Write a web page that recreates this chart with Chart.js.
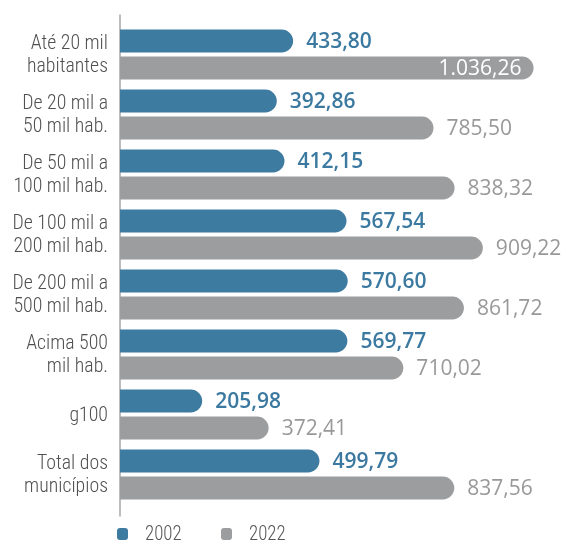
<!DOCTYPE html>
<html>
<head>
<meta charset="utf-8">
<script src="https://cdn.jsdelivr.net/npm/chart.js@4/dist/chart.umd.min.js"></script>
<style>
  html, body { margin: 0; padding: 0; background: #fff; }
  #wrap { width: 563px; height: 544px; position: relative; }
</style>
</head>
<body>
<div id="wrap"><canvas id="c" width="563" height="544"></canvas></div>
<script>
const categories = [
  ['Até 20 mil', 'habitantes'],
  ['De 20 mil a', '50 mil hab.'],
  ['De 50 mil a', '100 mil hab.'],
  ['De 100 mil a', '200 mil hab.'],
  ['De 200 mil a', '500 mil hab.'],
  ['Acima 500', 'mil hab.'],
  ['g100'],
  ['Total dos', 'municípios']
];
const seriesNames = ['2002', '2022'];
const values2002 = [433.80, 392.86, 412.15, 567.54, 570.60, 569.77, 205.98, 499.79];
const values2022 = [1036.26, 785.50, 838.32, 909.22, 861.72, 710.02, 372.41, 837.56];

const BLUE = '#3e7ba1';
const GRAY = '#9c9d9f';
const BLUE_TXT = '#3b79a0';
const GRAY_TXT = '#999999';
const VALFONT = "'Open Sans', 'Noto Sans', sans-serif";

// pick a narrow font if one is installed, otherwise Roboto Light, compressed to match
const probe = document.createElement('canvas').getContext('2d');
function hasFont(name) {
  const s = 'abcdefghijklmnopqrstuvwxyz0123456789';
  probe.font = '40px "' + name + '", monospace';
  const a = probe.measureText(s).width;
  probe.font = '40px monospace';
  const b = probe.measureText(s).width;
  probe.font = '40px "' + name + '", serif';
  const c = probe.measureText(s).width;
  probe.font = '40px serif';
  const d = probe.measureText(s).width;
  return a !== b && c !== d;
}
let LABEL_FAMILY = "Roboto";
let LABEL_WEIGHT = '300';
for (const f of ['Roboto Condensed', 'Liberation Sans Narrow', 'Arial Narrow', 'Open Sans Condensed']) {
  if (hasFont(f)) { LABEL_FAMILY = f; LABEL_WEIGHT = '300'; break; }
}
const LABEL_SIZE = 21;
const LABEL_FONT = LABEL_WEIGHT + ' ' + LABEL_SIZE + 'px "' + LABEL_FAMILY + '", sans-serif';
probe.font = LABEL_FONT;
const SQUEEZE = Math.min(1, Math.max(0.7, 81 / probe.measureText('habitantes').width));

function fmt(v) {
  const parts = v.toFixed(2).split('.');
  let int = parts[0];
  let out = '';
  while (int.length > 3) { out = '.' + int.slice(-3) + out; int = int.slice(0, -3); }
  return int + out + ',' + parts[1];
}

function squeezedText(ctx, txt, x, y, align) {
  ctx.save();
  ctx.translate(x, y);
  ctx.scale(SQUEEZE, 1);
  ctx.textAlign = align;
  ctx.fillText(txt, 0, 0);
  ctx.restore();
}

const axisLinePlugin = {
  id: 'axisLine',
  beforeDatasetsDraw(chart) {
    const ctx = chart.ctx;
    const x = chart.chartArea.left;
    ctx.save();
    ctx.strokeStyle = '#a6a6a6';
    ctx.lineWidth = 1.5;
    ctx.beginPath();
    ctx.moveTo(x, chart.chartArea.top - 10);
    ctx.lineTo(x, chart.chartArea.bottom + 12);
    ctx.stroke();
    ctx.restore();
  }
};

const categoryLabelPlugin = {
  id: 'categoryLabels',
  afterDraw(chart) {
    const ctx = chart.ctx;
    const scale = chart.scales.y;
    const lh = 23;
    ctx.save();
    ctx.fillStyle = '#505050';
    ctx.font = LABEL_FONT;
    ctx.textBaseline = 'middle';
    chart.data.labels.forEach((lab, i) => {
      const lines = Array.isArray(lab) ? lab : [lab];
      const yc = scale.getPixelForTick(i);
      const y0 = yc - (lines.length - 1) * lh / 2;
      lines.forEach((ln, k) => squeezedText(ctx, ln, scale.right - 12, y0 + k * lh + 1, 'right'));
    });
    ctx.restore();
  }
};

const valueLabelPlugin = {
  id: 'valueLabels',
  afterDatasetsDraw(chart) {
    const ctx = chart.ctx;
    ctx.save();
    ctx.textBaseline = 'middle';
    chart.data.datasets.forEach((ds, di) => {
      const meta = chart.getDatasetMeta(di);
      meta.data.forEach((bar, i) => {
        const txt = fmt(ds.data[i]);
        ctx.font = (di === 0 ? '600' : '500') + ' 21px ' + VALFONT;
        const w = ctx.measureText(txt).width;
        let x = bar.x + 13;
        let color = di === 0 ? BLUE_TXT : GRAY_TXT;
        if (x + w > chart.width + 8) {
          x = bar.x - 12 - w;
          color = '#ffffff';
        }
        ctx.fillStyle = color;
        ctx.textAlign = 'left';
        ctx.fillText(txt, x, bar.y + 1);
      });
    });
    ctx.restore();
  }
};

const legendPlugin = {
  id: 'customLegend',
  afterDraw(chart) {
    const ctx = chart.ctx;
    ctx.save();
    const y = 534;
    const starts = [117, 221];
    chart.data.datasets.forEach((ds, di) => {
      const x = starts[di];
      ctx.fillStyle = ds.backgroundColor;
      ctx.beginPath();
      if (ctx.roundRect) ctx.roundRect(x, y - 6, 11, 12, 3); else ctx.rect(x, y - 6, 11, 12);
      ctx.fill();
      ctx.fillStyle = '#555555';
      ctx.font = LABEL_WEIGHT + ' 20px "' + LABEL_FAMILY + '", sans-serif';
      ctx.textBaseline = 'middle';
      squeezedText(ctx, ds.label, x + 28, y + 1, 'left');
    });
    ctx.restore();
  }
};

new Chart(document.getElementById('c'), {
  type: 'bar',
  data: {
    labels: categories,
    datasets: [
      { label: seriesNames[0], data: values2002, backgroundColor: BLUE },
      { label: seriesNames[1], data: values2022, backgroundColor: GRAY }
    ]
  },
  options: {
    indexAxis: 'y',
    responsive: false,
    animation: false,
    devicePixelRatio: 1,
    layout: { padding: { top: 24.5, bottom: 39.5, left: 0, right: 0 } },
    datasets: {
      bar: {
        categoryPercentage: 0.9,
        barPercentage: 0.85,
        borderRadius: 12,
        borderSkipped: 'start'
      }
    },
    scales: {
      x: { display: false, min: 0, max: 1110 },
      y: {
        afterFit(scale) { scale.width = 120; },
        grid: { display: false, drawTicks: false },
        border: { display: false },
        ticks: { display: false }
      }
    },
    plugins: {
      legend: { display: false },
      tooltip: { enabled: false }
    }
  },
  plugins: [axisLinePlugin, valueLabelPlugin, categoryLabelPlugin, legendPlugin]
});
</script>
</body>
</html>
